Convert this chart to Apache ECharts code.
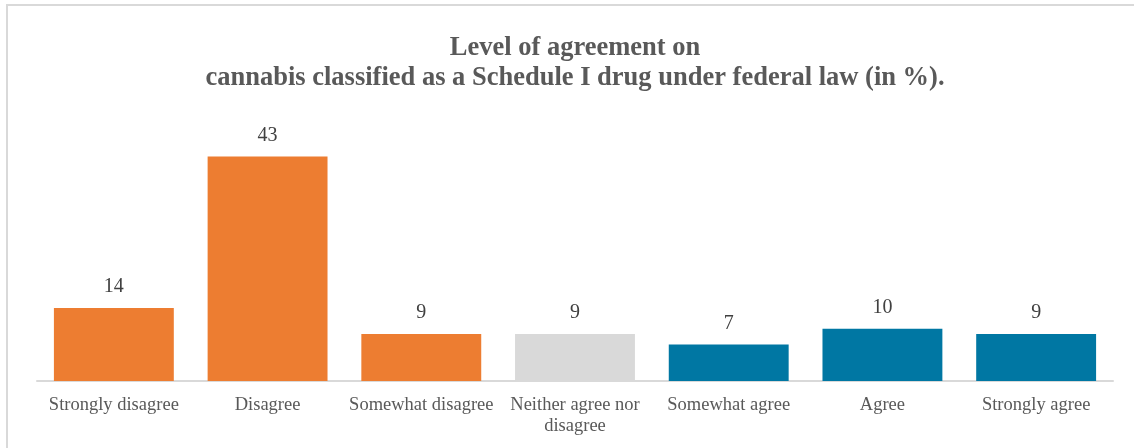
<!DOCTYPE html>
<html>
<head>
<meta charset="utf-8">
<script src="https://cdn.jsdelivr.net/npm/echarts@6/dist/echarts.min.js"></script>
<style>
  html, body { margin: 0; padding: 0; background: #ffffff; }
  #chart { width: 1134px; height: 448px; }
</style>
</head>
<body>
<div id="chart"></div>
<script>
// Survey responses, share of respondents (%)
const categories = [
  'Strongly disagree',
  'Disagree',
  'Somewhat disagree',
  'Neither agree nor\ndisagree',
  'Somewhat agree',
  'Agree',
  'Strongly agree'
];
const values = [14, 43, 9, 9, 7, 10, 9];
const barColors = ['#ED7D31', '#ED7D31', '#ED7D31', '#D9D9D9', '#0077A3', '#0077A3', '#0077A3'];

const titleLines = [
  'Level of agreement on',
  'cannabis classified as a Schedule I drug under federal law (in %).'
];

const serif = '"Liberation Serif", "Times New Roman", serif';

const chart = echarts.init(document.getElementById('chart'), null, { renderer: 'canvas' });

chart.setOption({
  backgroundColor: '#ffffff',
  animation: false,
  title: {
    text: titleLines.join('\n'),
    left: 570,
    top: 28,
    textAlign: 'center',
    textStyle: {
      fontFamily: serif,
      fontSize: 26.5,
      fontWeight: 'bold',
      color: '#595959',
      lineHeight: 30
    }
  },
  graphic: [{
    type: 'rect',
    shape: { x: 7, y: 5, width: 1200, height: 500 },
    style: { fill: 'none', stroke: '#D9D9D9', lineWidth: 2 },
    silent: true,
    z: -1
  }],
  grid: { left: 37, right: 21, top: 120, bottom: 67 },
  xAxis: {
    type: 'category',
    data: categories,
    axisTick: { show: false },
    axisLine: { lineStyle: { color: '#D9D9D9', width: 2 } },
    axisLabel: {
      interval: 0,
      margin: 14,
      fontFamily: serif,
      fontSize: 18.5,
      color: '#595959',
      lineHeight: 21
    }
  },
  yAxis: {
    type: 'value',
    min: 0,
    max: 50,
    show: false,
    splitLine: { show: false }
  },
  series: [{
    type: 'bar',
    barCategoryGap: '22%',
    data: values.map((v, i) => ({ value: v, itemStyle: { color: barColors[i] } })),
    label: {
      show: true,
      position: 'top',
      distance: 11,
      fontFamily: serif,
      fontSize: 20,
      color: '#404040'
    }
  }]
});
</script>
</body>
</html>
